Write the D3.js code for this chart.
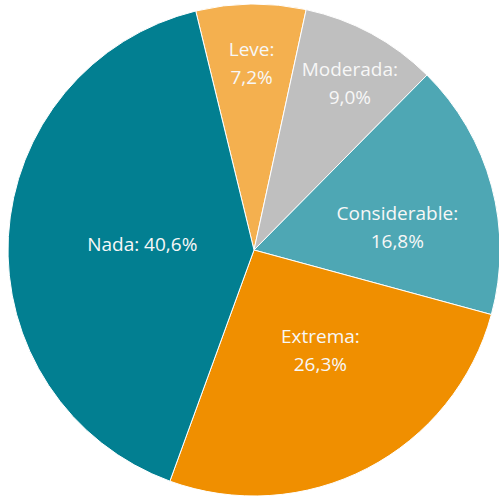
<!DOCTYPE html>
<html>
<head>
<meta charset="utf-8">
<script src="https://cdn.jsdelivr.net/npm/d3@7"></script>
<style>
  html, body { margin: 0; padding: 0; background: #fff; }
  svg { display: block; }
</style>
</head>
<body>
<svg id="chart"></svg>
<script>
// data
var categories = ["Leve", "Moderada", "Considerable", "Extrema", "Nada"];
var values = [7.2, 9.0, 16.8, 26.3, 40.6];
var valueLabels = ["7,2%", "9,0%", "16,8%", "26,3%", "40,6%"];
var colors = ["#F4B04F", "#BFBFBF", "#4EA7B4", "#F08F00", "#027F91"];

// label placement: fraction of radius, shift from slice middle (deg), one or two lines
var labelRadius = [0.76, 0.78, 0.59, 0.49, 0.455];
var labelShift = [0, 1.5, 6, -6, 0];
var twoLines = [true, true, true, true, false];

var width = 499;
var height = 497;
var cx = 254, cy = 250;
var radius = 246;
var startDeg = -13.7;

var svg = d3.select("#chart")
            .attr("width", width)
            .attr("height", height);

var g = svg.append("g")
           .attr("transform", "translate(" + cx + "," + cy + ")");

var pie = d3.pie()
            .sort(null)
            .value(function(d){ return d; })
            .startAngle(startDeg * Math.PI / 180)
            .endAngle(startDeg * Math.PI / 180 + 2 * Math.PI);

var arc = d3.arc()
            .innerRadius(0)
            .outerRadius(radius);

var arcs = pie(values);

g.selectAll(".slice")
 .data(arcs)
 .enter().append("path")
 .attr("class", "slice")
 .attr("d", arc)
 .attr("fill", function(d, i){ return colors[i]; })
 .attr("stroke", "#fff")
 .attr("stroke-width", 1);

var labels = g.selectAll(".lbl")
              .data(arcs)
              .enter().append("text")
              .attr("class", "lbl")
              .attr("text-anchor", "middle")
              .attr("fill", "#F7F7F7")
              .style("font-family", "'Open Sans', 'Noto Sans', sans-serif")
              .style("font-size", "19px")
              .attr("transform", function(d, i){
                var a = (d.startAngle + d.endAngle) / 2 + labelShift[i] * Math.PI / 180;
                var r = radius * labelRadius[i];
                return "translate(" + (r * Math.sin(a)) + "," + (-r * Math.cos(a)) + ")";
              });

labels.each(function(d, i){
  var t = d3.select(this);
  if(twoLines[i]){
    t.append("tspan").attr("x", 0).attr("y", -14).attr("dy", "0.35em").text(categories[i] + ":");
    t.append("tspan").attr("x", 0).attr("y", 14).attr("dy", "0.35em").text(valueLabels[i]);
  }
  else{
    t.append("tspan").attr("x", 0).attr("y", 0).attr("dy", "0.35em").text(categories[i] + ": " + valueLabels[i]);
  }
});
</script>
</body>
</html>
